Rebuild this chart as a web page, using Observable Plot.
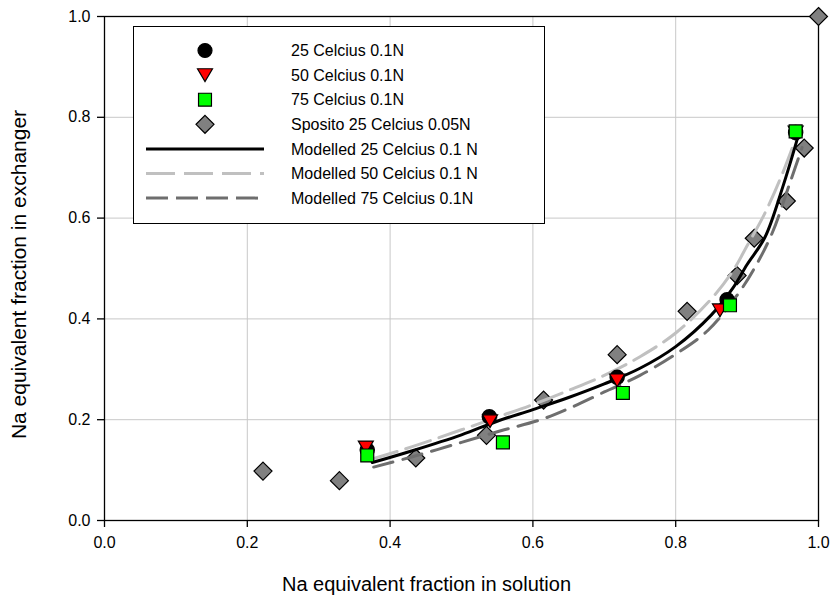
<!DOCTYPE html>
<html><head><meta charset="utf-8">
<script src="https://cdn.jsdelivr.net/npm/d3@7"></script>
<script src="https://cdn.jsdelivr.net/npm/@observablehq/plot@0.6"></script>
<style>
body{margin:0;background:#fff;font-family:Arial,"Liberation Sans",sans-serif;}
#wrap{position:relative;width:835px;height:608px;overflow:hidden;}
#legend{position:absolute;left:133px;top:26px;width:412px;height:198px;border:1.5px solid #000;background:#fff;box-sizing:border-box;}
</style></head><body><div id="wrap"></div>
<script>
// ---- data ----
const xTicks = [0, 0.2, 0.4, 0.6, 0.8, 1.0];
const yTicks = [0, 0.2, 0.4, 0.6, 0.8, 1.0];

const c25x = [0.368, 0.539, 0.718, 0.872, 0.968];
const c25y = [0.140, 0.206, 0.284, 0.438, 0.770];

const c50x = [0.366, 0.540, 0.718, 0.862, 0.968];
const c50y = [0.145, 0.197, 0.278, 0.417, 0.770];

const c75x = [0.368, 0.558, 0.726, 0.876, 0.968];
const c75y = [0.129, 0.155, 0.253, 0.427, 0.772];

const spX = [0.222, 0.329, 0.436, 0.535, 0.615, 0.718, 0.816, 0.886, 0.910, 0.955, 0.980, 1.000];
const spY = [0.098, 0.079, 0.124, 0.169, 0.239, 0.329, 0.415, 0.486, 0.560, 0.634, 0.739, 1.000];

const m25x = [0.375, 0.43, 0.50, 0.55, 0.60, 0.65, 0.70, 0.75, 0.80, 0.85, 0.88, 0.90, 0.925, 0.95, 0.972];
const m25y = [0.115, 0.138, 0.170, 0.197, 0.220, 0.244, 0.271, 0.302, 0.345, 0.408, 0.461, 0.508, 0.562, 0.662, 0.765];

const m50x = [0.375, 0.43, 0.50, 0.55, 0.60, 0.65, 0.70, 0.75, 0.80, 0.85, 0.88, 0.90, 0.925, 0.95, 0.970];
const m50y = [0.122, 0.146, 0.180, 0.205, 0.230, 0.258, 0.288, 0.325, 0.372, 0.440, 0.495, 0.545, 0.610, 0.690, 0.765];

const m75x = [0.377, 0.43, 0.50, 0.555, 0.611, 0.65, 0.70, 0.75, 0.80, 0.845, 0.885, 0.91, 0.935, 0.96, 0.977];
const m75y = [0.106, 0.126, 0.155, 0.178, 0.200, 0.222, 0.255, 0.288, 0.330, 0.377, 0.445, 0.500, 0.570, 0.670, 0.740];

const legendLabels = ["25 Celcius 0.1N", "50 Celcius 0.1N", "75 Celcius 0.1N", "Sposito 25 Celcius 0.05N",
  "Modelled 25 Celcius 0.1 N", "Modelled 50 Celcius 0.1 N", "Modelled 75 Celcius 0.1N"];
const xTitle = "Na equivalent fraction in solution";
const yTitle = "Na equivalent fraction in exchanger";

// ---- helpers ----
const zip = (xs, ys) => xs.map((x, i) => ({x, y: ys[i]}));
const triDown = {draw(ctx, size) {
  const k = Math.sqrt(size / Math.PI);
  ctx.moveTo(-k, -0.85 * k); ctx.lineTo(k, -0.85 * k); ctx.lineTo(0, 0.85 * k); ctx.closePath();
}};
const FONT = "Arial, 'Liberation Sans', sans-serif";
const LIGHT = "#c0c0c0", DARK = "#6e6e6e";

const chart = Plot.plot({
  width: 835, height: 608,
  marginLeft: 104, marginRight: 17, marginTop: 16, marginBottom: 88,
  style: {fontFamily: FONT, fontSize: "16px", background: "white", color: "black", overflow: "visible"},
  x: {domain: [0, 1], axis: null},
  y: {domain: [0, 1], axis: null},
  marks: [
    Plot.gridX(xTicks, {stroke: "#c8c8c8", strokeOpacity: 1, strokeWidth: 1}),
    Plot.gridY(yTicks, {stroke: "#c8c8c8", strokeOpacity: 1, strokeWidth: 1}),
    Plot.frame({stroke: "black", strokeWidth: 1.3}),
    Plot.axisX(xTicks, {tickSize: 7, tickPadding: 9, tickFormat: d3.format(".1f"), label: null, stroke: "black", strokeWidth: 1.3, fontSize: 16}),
    Plot.axisY(yTicks, {tickSize: 7, tickPadding: 7, tickFormat: d3.format(".1f"), label: null, stroke: "black", strokeWidth: 1.3, fontSize: 16}),
    Plot.text([xTitle], {frameAnchor: "bottom", dy: 70, dx: -35, textAnchor: "middle", fontSize: 20, fill: "black"}),
    Plot.text([yTitle], {frameAnchor: "left", dx: -85, dy: 6, rotate: -90, textAnchor: "middle", fontSize: 21, fill: "black"}),
    Plot.dot(zip(spX, spY), {x: "x", y: "y", symbol: d3.symbolDiamond2, r: 8.1, fill: "#808080", stroke: "black", strokeWidth: 1.2}),
    Plot.line(zip(m50x, m50y), {x: "x", y: "y", curve: "catmull-rom", stroke: LIGHT, strokeWidth: 3, strokeDasharray: "26,9"}),
    Plot.line(zip(m75x, m75y), {x: "x", y: "y", curve: "catmull-rom", stroke: DARK, strokeWidth: 3, strokeDasharray: "20,10"}),
    Plot.line(zip(m25x, m25y), {x: "x", y: "y", curve: "catmull-rom", stroke: "black", strokeWidth: 3}),
    Plot.dot(zip(c25x, c25y), {x: "x", y: "y", symbol: "circle", r: 7, fill: "black", stroke: "black"}),
    Plot.dot(zip(c50x, c50y), {x: "x", y: "y", symbol: triDown, r: 7.5, fill: "#ff0000", stroke: "black", strokeWidth: 1.2}),
    Plot.dot(zip(c75x, c75y), {x: "x", y: "y", symbol: d3.symbolSquare, r: 7.3, fill: "#00ff00", stroke: "black", strokeWidth: 1.2})
  ]
});
const wrap = document.getElementById("wrap");
wrap.appendChild(chart);

// ---- legend ----
const leg = document.createElement("div");
leg.id = "legend";
wrap.appendChild(leg);
const lsvg = d3.select(leg).append("svg").attr("width", 412).attr("height", 198)
  .style("position", "absolute").style("left", "-1.5px").style("top", "-1.5px");
const rowY = i => 24.5 + i * 24.6;
const symCx = 72, lineX0 = 13, lineX1 = 131, textX = 158;
const symDefs = [
  {sym: d3.symbolCircle, r: 7, fill: "black"},
  {sym: triDown, r: 7.5, fill: "#ff0000"},
  {sym: d3.symbolSquare, r: 7.3, fill: "#00ff00"},
  {sym: d3.symbolDiamond2, r: 8.1, fill: "#808080"}
];
symDefs.forEach((s, i) => {
  lsvg.append("path").attr("d", d3.symbol(s.sym, Math.PI * s.r * s.r)())
    .attr("transform", `translate(${symCx},${rowY(i)})`)
    .attr("fill", s.fill).attr("stroke", "black").attr("stroke-width", 1.2);
});
const lineDefs = [
  {stroke: "black", dash: null},
  {stroke: LIGHT, dash: "29,9"},
  {stroke: DARK, dash: "22,8"}
];
lineDefs.forEach((l, j) => {
  const i = j + 4;
  const ln = lsvg.append("line").attr("x1", lineX0).attr("x2", lineX1).attr("y1", rowY(i)).attr("y2", rowY(i))
    .attr("stroke", l.stroke).attr("stroke-width", 3);
  if (l.dash) ln.attr("stroke-dasharray", l.dash);
});
legendLabels.forEach((t, i) => {
  lsvg.append("text").attr("x", textX).attr("y", rowY(i)).attr("dy", "0.36em")
    .attr("font-family", FONT).attr("font-size", 16).attr("fill", "black").text(t);
});
</script>
</body></html>
